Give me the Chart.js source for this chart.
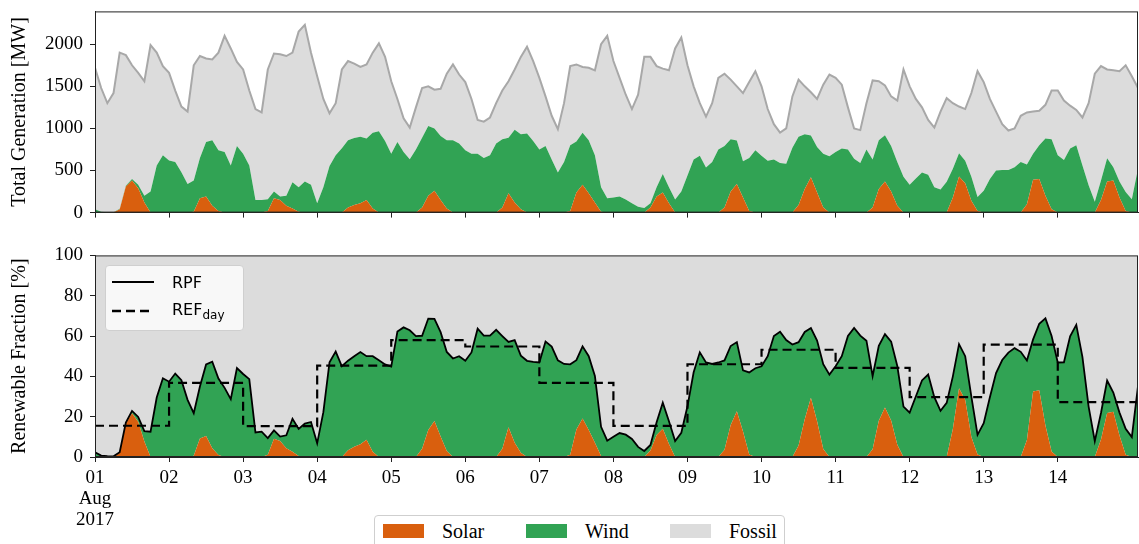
<!DOCTYPE html>
<html>
<head>
<meta charset="utf-8">
<script src="https://cdn.jsdelivr.net/npm/chart.js@4.4.0/dist/chart.umd.min.js"></script>
<style>
  html, body { margin: 0; padding: 0; background: #fff; }
  #wrap { position: relative; width: 1139px; height: 544px; overflow: hidden; }
  #topBox { position: absolute; left: 0; top: -7px; width: 1139px; height: 238px; }
  #botBox { position: absolute; left: 0; top: 237px; width: 1139px; height: 307px; }
  .rpfLegend {
    position: absolute; left: 105px; top: 265px; width: 137px; height: 64px;
    background: rgba(255, 255, 255, 0.8); border: 1px solid #cfcfcf; border-radius: 4px;
    font-family: 'DejaVu Sans', sans-serif; font-size: 16px; color: #000;
  }
  .rpfLegend .row { position: absolute; left: 6px; height: 20px; display: flex; align-items: center; }
  .rpfLegend svg { width: 42px; height: 6px; margin-right: 18px; }
  .rpfLegend sub { font-size: 12px; vertical-align: -4px; }
  .mainLegend {
    position: absolute; left: 374px; top: 515px; width: 409px; height: 40px;
    background: #fff; border: 1px solid #cfcfcf; border-radius: 4px;
    font-family: 'Liberation Serif', 'Times New Roman', serif; font-size: 20px; color: #000;
  }
  .mainLegend .item { position: absolute; top: 7px; display: flex; align-items: center; height: 16px; }
  .mainLegend .patch { width: 41px; height: 14px; margin-right: 18px; }
</style>
</head>
<body>
<div id="wrap">
  <div id="topBox"><canvas id="topChart"></canvas></div>
  <div id="botBox"><canvas id="botChart"></canvas></div>
  <div class="rpfLegend">
    <div class="row" style="top:6px"><svg><line x1="0" y1="3" x2="42" y2="3" stroke="#000" stroke-width="2"/></svg><span>RPF</span></div>
    <div class="row" style="top:35px"><svg><line x1="0" y1="3" x2="42" y2="3" stroke="#000" stroke-width="2.5" stroke-dasharray="9,5"/></svg><span>REF<sub>day</sub></span></div>
  </div>
  <div class="mainLegend">
    <div class="item" style="left:8px"><div class="patch" style="background:#d95f0e"></div>Solar</div>
    <div class="item" style="left:151px"><div class="patch" style="background:#31a354"></div>Wind</div>
    <div class="item" style="left:295px"><div class="patch" style="background:#dcdcdc"></div>Fossil</div>
  </div>
</div>
<script>
'use strict';

// Werte alle 2 Stunden ab 01.08.2017 00:00 (MW)
const hourStep = 2;
const total = [
  1720, 1480, 1300, 1420, 1900, 1870, 1750, 1660, 1560, 1990, 1900, 1740,
  1660, 1450, 1260, 1200, 1750, 1860, 1830, 1820, 1900, 2100, 1950, 1790,
  1700, 1450, 1230, 1190, 1700, 1890, 1880, 1860, 1900, 2150, 2230, 1900,
  1620, 1350, 1180, 1300, 1700, 1800, 1770, 1730, 1760, 1900, 2010, 1850,
  1560, 1350, 1120, 1010, 1250, 1480, 1500, 1460, 1470, 1650, 1760, 1640,
  1550, 1350, 1100, 1080, 1130, 1300, 1450, 1560, 1700, 1850, 1970, 1800,
  1600, 1380, 1150, 990, 1300, 1740, 1760, 1730, 1720, 1690, 2000, 2100,
  1800, 1600, 1400, 1230, 1400, 1850, 1850, 1740, 1710, 1690, 1950, 2080,
  1750, 1500, 1300, 1140, 1300, 1600, 1650, 1580, 1500, 1420, 1550, 1680,
  1500, 1230, 1050, 950, 1000, 1380, 1580, 1500, 1430, 1350, 1520, 1640,
  1600, 1520, 1250, 1000, 980, 1300, 1570, 1560, 1510, 1380, 1330, 1700,
  1500, 1350, 1250, 1100, 1010, 1200, 1360, 1300, 1260, 1230, 1420, 1680,
  1550, 1350, 1200, 1050, 975, 1000, 1150, 1190, 1200, 1210, 1280, 1450,
  1450, 1330, 1270, 1220, 1130, 1300, 1650, 1740, 1700, 1690, 1680, 1750,
  1620, 1480,
];
const solar = [
  0, 0, 0, 0, 40, 310, 380, 290, 120, 0, 0, 0,
  0, 0, 0, 0, 10, 170, 190, 80, 20, 0, 0, 0,
  0, 0, 0, 0, 20, 170, 150, 80, 50, 10, 0, 0,
  0, 0, 0, 0, 0, 60, 90, 110, 150, 50, 0, 0,
  0, 0, 0, 0, 0, 60, 200, 260, 150, 50, 0, 0,
  0, 0, 0, 0, 0, 0, 60, 230, 120, 40, 0, 0,
  0, 0, 0, 0, 0, 20, 240, 330, 230, 120, 10, 0,
  0, 0, 0, 0, 0, 0, 60, 190, 240, 110, 0, 0,
  0, 0, 0, 0, 0, 0, 60, 250, 340, 180, 20, 0,
  0, 0, 0, 0, 0, 0, 90, 280, 420, 240, 60, 0,
  0, 0, 0, 0, 0, 0, 60, 280, 370, 250, 80, 0,
  0, 0, 0, 0, 0, 0, 0, 180, 430, 350, 140, 20,
  0, 0, 0, 0, 0, 0, 0, 100, 390, 400, 200, 40,
  0, 0, 0, 0, 0, 0, 0, 150, 370, 380, 180, 20,
  0, 0,
];
const wind = [
  40, 10, 5, 5, 5, 10, 20, 40, 80, 250, 560, 680,
  620, 600, 480, 340, 370, 480, 650, 780, 720, 720, 560, 790,
  700, 560, 150, 150, 140, 80, 40, 120, 310, 290, 370, 330,
  110, 300, 555, 680, 765, 800, 795, 790, 730, 900, 965, 850,
  700, 840, 720, 635, 750, 830, 830, 740, 760, 810, 860, 820,
  740, 700, 700, 650, 680, 820, 810, 660, 865, 890, 940, 850,
  750, 790, 630, 475, 600, 780, 605, 620, 630, 560, 290, 170,
  180, 190, 155, 110, 70, 55, 50, 110, 220, 190, 155, 250,
  440, 630, 675, 535, 600, 750, 730, 620, 515, 430, 630, 740,
  675, 615, 630, 590, 580, 770, 810, 650, 495, 540, 640, 670,
  720, 760, 750, 640, 590, 750, 570, 580, 550, 540, 520, 425,
  330, 405, 475, 450, 300, 275, 365, 340, 275, 265, 285, 165,
  260, 400, 500, 505, 505, 540, 600, 470, 310, 400, 680, 830,
  680, 625, 760, 800, 560, 325, 130, 230, 275, 160, 190, 225,
  160, 520,
];
// Tageswerte REF_day (%)
const refDay = [15.5, 36.8, 15.3, 45.3, 58, 54.8, 36.8, 15.4, 46, 53.2, 44.2, 29.7, 55.7, 27.2];

// Achsen
const xMax = 338;
const dayTicks = [0, 24, 48, 72, 96, 120, 144, 168, 192, 216, 240, 264, 288, 312];
const dayLabels = [['01', 'Aug', '2017'], '02', '03', '04', '05', '06', '07', '08', '09', '10', '11', '12', '13', '14'];
const genTicks = [0, 500, 1000, 1500, 2000];
const fracTicks = [0, 20, 40, 60, 80, 100];

const colSolar = '#d95f0e';
const colWind = '#31a354';
const colFossil = '#dcdcdc';
const serif = "'Liberation Serif', 'Times New Roman', serif";

const pts = arr => arr.map((v, i) => ({ x: i * hourStep, y: v }));
const fossil = total.map((t, i) => t - solar[i] - wind[i]);
const solarPct = solar.map((s, i) => (s / total[i]) * 100);
const windPct = wind.map((w, i) => (w / total[i]) * 100);
const fossilPct = solarPct.map((s, i) => 100 - s - windPct[i]);
const rpf = solarPct.map((s, i) => s + windPct[i]);
const refPts = refDay.map((v, d) => ({ x: d * 24, y: v }));
refPts.push({ x: xMax, y: refDay[refDay.length - 1] });

// Rahmen um die Zeichenfläche
const framePlugin = {
  id: 'frame',
  afterDatasetsDraw(chart) {
    const { ctx, chartArea: a } = chart;
    ctx.save();
    ctx.strokeStyle = '#222';
    ctx.lineWidth = 1;
    ctx.strokeRect(a.left + 0.5, a.top + 0.5, a.right - a.left - 1, a.bottom - a.top - 1);
    ctx.restore();
  },
};

function xScale(showLabels, height) {
  return {
    type: 'linear',
    min: 0,
    max: xMax,
    afterBuildTicks: s => { s.ticks = dayTicks.map(v => ({ value: v })); },
    afterFit: s => { s.height = height; },
    grid: { drawOnChartArea: false, drawTicks: true, tickLength: 5, color: '#222' },
    border: { display: true, color: '#222' },
    ticks: {
      display: showLabels,
      maxRotation: 0,
      autoSkip: false,
      padding: 6,
      color: '#000',
      font: { family: serif, size: 19, lineHeight: 1.1 },
      callback: v => dayLabels[dayTicks.indexOf(v)],
    },
  };
}

function yScale(title, max, tickList) {
  return {
    stacked: true,
    min: 0,
    max: max,
    afterBuildTicks: s => { s.ticks = tickList.map(v => ({ value: v })); },
    afterFit: s => { s.width = 95; },
    grid: { drawOnChartArea: false, drawTicks: true, tickLength: 5, color: '#222' },
    border: { display: true, color: '#222' },
    ticks: { padding: 7, color: '#000', font: { family: serif, size: 19 }, callback: v => String(v) },
    title: {
      display: true,
      text: title,
      color: '#000',
      font: { family: serif, size: 20 },
      padding: { top: 8, bottom: 0 },
    },
  };
}

const area = (data, color, fill, extra) => Object.assign({
  data: pts(data),
  backgroundColor: color,
  borderWidth: 0,
  pointRadius: 0,
  fill: fill,
  tension: 0,
}, extra || {});

const baseOptions = {
  responsive: true,
  maintainAspectRatio: false,
  animation: false,
  plugins: { legend: { display: false }, tooltip: { enabled: false } },
};

// Oberes Diagramm: Erzeugung
new Chart(document.getElementById('topChart'), {
  type: 'line',
  data: {
    datasets: [
      area(solar, colSolar, 'origin', { label: 'Solar' }),
      area(wind, colWind, '-1', { label: 'Wind' }),
      area(fossil, colFossil, '-1', { label: 'Fossil', borderColor: '#a8a8a8', borderWidth: 2 }),
    ],
  },
  options: Object.assign({}, baseOptions, {
    layout: { padding: { top: 10, right: 1, left: 0, bottom: 0 } },
    scales: {
      x: xScale(false, 10),
      y: yScale('Total Generation [MW]', 2390, genTicks),
    },
  }),
  plugins: [framePlugin],
});

// Unteres Diagramm: Anteil erneuerbar
new Chart(document.getElementById('botChart'), {
  type: 'line',
  data: {
    datasets: [
      area(solarPct, colSolar, 'origin', { label: 'Solar', stack: 'mix', order: 5 }),
      area(windPct, colWind, '-1', { label: 'Wind', stack: 'mix', order: 5 }),
      area(fossilPct, colFossil, '-1', { label: 'Fossil', stack: 'mix', order: 5 }),
      {
        label: 'REF_day',
        data: refPts,
        stepped: true,
        borderColor: '#000',
        borderWidth: 2.2,
        borderDash: [9, 5],
        pointRadius: 0,
        fill: false,
        stack: 'ref',
        order: 1,
      },
      area(rpf, 'transparent', false, { label: 'RPF', borderColor: '#000', borderWidth: 1.8, stack: 'rpf', order: 0 }),
    ],
  },
  options: Object.assign({}, baseOptions, {
    layout: { padding: { top: 14, right: 1, left: 0, bottom: 0 } },
    scales: {
      x: xScale(true, 87),
      y: yScale('Renewable Fraction [%]', 100, fracTicks),
    },
  }),
  plugins: [framePlugin],
});
</script>
</body>
</html>
